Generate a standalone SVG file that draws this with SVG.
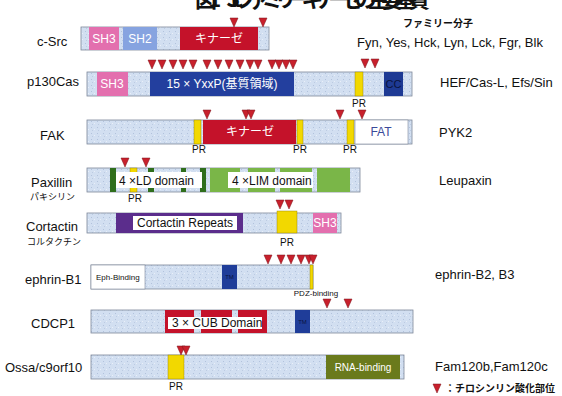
<svg xmlns="http://www.w3.org/2000/svg" width="562" height="396" viewBox="0 0 562 396">
<defs>
<pattern id="speck" width="6" height="6" patternUnits="userSpaceOnUse">
<rect width="6" height="6" fill="#d2dff1"/>
<rect x="1" y="1" width="1" height="1" fill="#b2c2dc"/>
<rect x="4" y="3" width="1" height="1" fill="#e9eff8"/>
<rect x="2" y="4" width="1" height="1" fill="#bccbe2"/>
</pattern>
<path id="tri" d="M-4,0 L4,0 L0,9 Z"/>
</defs>
<style>
.bar{fill:url(#speck);stroke:#7d8799;stroke-width:0.8}
.lbl{font-family:"Liberation Sans",Arial,"Noto Sans CJK JP",sans-serif;font-size:13px;fill:#111}
.jp{font-family:"Noto Sans CJK JP",sans-serif;font-size:9px;fill:#111}
.dom{font-family:"Liberation Sans",Arial,"Noto Sans CJK JP",sans-serif;font-size:12px;fill:#fff;text-anchor:middle}
.blk{font-family:"Liberation Sans",Arial,sans-serif;font-size:12px;fill:#111}
.pr{font-family:"Liberation Sans",Arial,sans-serif;font-size:10px;fill:#111;text-anchor:middle}
.tri{fill:#c8202c;stroke:#7a1018;stroke-width:0.5}
.sh3{fill:#e36fae}
.red{fill:#c4122a}
.yel{fill:#f2d800;stroke:#8a7a00;stroke-width:0.4}
.navy{fill:#233f9e}
.wbox{fill:#fff}
</style>
<text x="195" y="7" font-family="'Noto Sans CJK JP',sans-serif" font-weight="bold" font-size="22" textLength="235" fill="#111">図1　Srcファミリーキナーゼの主要基質</text>

<g id="c-src">
<text class="lbl" x="37" y="46">c-Src</text>
<rect class="bar" x="81" y="27" width="188" height="23"/>
<rect class="sh3" x="89" y="27" width="30" height="23"/>
<text class="dom" x="104" y="43" font-size="11">SH3</text>
<rect x="123" y="27" width="34" height="23" fill="#86a3e0"/>
<text class="dom" x="140" y="43" font-size="11">SH2</text>
<rect class="red" x="180" y="27" width="78" height="23"/>
<text class="dom" x="219" y="43">キナーゼ</text>
<use href="#tri" class="tri" x="234" y="18"/>
<use href="#tri" class="tri" x="263" y="18"/>
</g>

<g id="family-header">
<text x="438" y="27" text-anchor="middle" font-family="'Noto Sans CJK JP',sans-serif" font-weight="bold" font-size="10" fill="#111">ファミリー分子</text>
<text class="lbl" x="357" y="47">Fyn, Yes, Hck, Lyn, Lck, Fgr, Blk</text>
</g>

<g id="p130cas">
<text class="lbl" x="27" y="86">p130Cas</text>
<rect class="bar" x="87" y="72" width="325" height="24"/>
<rect class="sh3" x="97" y="72" width="31" height="24"/>
<text class="dom" x="112" y="88" font-size="11">SH3</text>
<rect class="navy" x="150" y="72" width="144" height="24"/>
<text class="dom" x="222" y="88">15 × YxxP(基質領域)</text>
<rect class="yel" x="355" y="72" width="8" height="24"/>
<rect x="384" y="72" width="19" height="24" fill="#1e3a94"/>
<text x="393.5" y="88" font-family="'Liberation Sans',Arial,sans-serif" font-size="11" fill="#0a1440" text-anchor="middle">CC</text>
<text class="pr" x="359" y="107">PR</text>
<use href="#tri" class="tri" x="152" y="60"/>
<use href="#tri" class="tri" x="162" y="60"/>
<use href="#tri" class="tri" x="173" y="60"/>
<use href="#tri" class="tri" x="183" y="60"/>
<use href="#tri" class="tri" x="193" y="60"/>
<use href="#tri" class="tri" x="207" y="60"/>
<use href="#tri" class="tri" x="218" y="60"/>
<use href="#tri" class="tri" x="229" y="60"/>
<use href="#tri" class="tri" x="240" y="60"/>
<use href="#tri" class="tri" x="250" y="60"/>
<use href="#tri" class="tri" x="258" y="60"/>
<use href="#tri" class="tri" x="272" y="60"/>
<use href="#tri" class="tri" x="279" y="60"/>
<use href="#tri" class="tri" x="286" y="60"/>
<use href="#tri" class="tri" x="293" y="60"/>
<use href="#tri" class="tri" x="365" y="59"/>
<use href="#tri" class="tri" x="375" y="59"/>
<text class="lbl" x="440" y="87">HEF/Cas-L, Efs/Sin</text>
</g>

<g id="fak">
<text class="lbl" x="40" y="140">FAK</text>
<rect class="bar" x="87" y="120" width="325" height="24"/>
<rect class="yel" x="194" y="120" width="7" height="24"/>
<rect class="red" x="203" y="120" width="93" height="24"/>
<text class="dom" x="250" y="136">キナーゼ</text>
<rect class="yel" x="297" y="120" width="6" height="24"/>
<rect class="yel" x="347" y="120" width="7" height="24"/>
<rect x="355" y="120" width="53" height="24" fill="#fff" stroke="#7d8799" stroke-width="0.6"/>
<text x="381" y="136" font-family="'Liberation Sans',Arial,sans-serif" font-size="12" fill="#3a4a9a" text-anchor="middle">FAT</text>
<text class="pr" x="199" y="153">PR</text>
<text class="pr" x="300" y="153">PR</text>
<text class="pr" x="350" y="153">PR</text>
<use href="#tri" class="tri" x="207" y="110"/>
<use href="#tri" class="tri" x="246" y="110"/>
<use href="#tri" class="tri" x="251" y="110"/>
<use href="#tri" class="tri" x="340" y="110"/>
<use href="#tri" class="tri" x="362" y="110"/>
<text class="lbl" x="439" y="137">PYK2</text>
</g>

<g id="paxillin">
<text class="lbl" x="31" y="187">Paxillin</text>
<text class="jp" x="30" y="200">パキシリン</text>
<rect class="bar" x="87" y="168" width="273" height="24"/>
<rect class="yel" x="130" y="168" width="7" height="24"/>
<rect x="110" y="168" width="6" height="24" fill="#2f6e1c"/>
<rect x="148" y="168" width="6" height="24" fill="#2f6e1c"/>
<rect x="181" y="168" width="5" height="24" fill="#2f6e1c"/>
<rect x="200" y="168" width="6" height="24" fill="#2f6e1c"/>
<rect class="wbox" x="116" y="172" width="86" height="16"/>
<text class="blk" x="119" y="185">4 ×LD domain</text>
<rect x="210" y="168" width="30" height="24" fill="#7ab648"/>
<rect x="248" y="168" width="27" height="24" fill="#7ab648"/>
<rect x="280" y="168" width="32" height="24" fill="#7ab648"/>
<rect x="317" y="168" width="33" height="24" fill="#7ab648"/>
<rect class="wbox" x="228" y="172" width="85" height="16"/>
<text class="blk" x="232" y="185">4 ×LIM domain</text>
<text class="pr" x="135" y="202">PR</text>
<use href="#tri" class="tri" x="125" y="158"/>
<use href="#tri" class="tri" x="146" y="158"/>
<text class="lbl" x="439" y="185">Leupaxin</text>
</g>

<g id="cortactin">
<text class="lbl" x="26" y="231">Cortactin</text>
<text class="jp" x="27" y="245">コルタクチン</text>
<rect class="bar" x="87" y="213" width="254" height="20"/>
<rect x="116" y="213" width="127" height="20" fill="#5b2d8c"/>
<rect class="wbox" x="133" y="216" width="104" height="14"/>
<text class="blk" x="185" y="227" text-anchor="middle">Cortactin Repeats</text>
<rect class="yel" x="277" y="211" width="20" height="22"/>
<rect class="sh3" x="313" y="213" width="24" height="20"/>
<text class="dom" x="325" y="227" font-size="11">SH3</text>
<text class="pr" x="287" y="246">PR</text>
<use href="#tri" class="tri" x="280" y="200"/>
<use href="#tri" class="tri" x="289" y="200"/>
</g>

<g id="ephrin-b1">
<text class="lbl" x="25" y="284">ephrin-B1</text>
<rect class="bar" x="91" y="265" width="222" height="24"/>
<rect x="91" y="265" width="54" height="24" fill="#fff" stroke="#7d8799" stroke-width="0.6"/>
<text x="96" y="280" font-family="'Liberation Sans',Arial,sans-serif" font-size="8" fill="#111">Eph-Binding</text>
<rect x="222" y="265" width="15" height="24" fill="#1f3d99"/>
<text x="229.5" y="279" font-family="'Liberation Sans',Arial,sans-serif" font-size="6" fill="#0a1440" text-anchor="middle">TM</text>
<rect class="yel" x="310" y="265" width="3" height="24"/>
<use href="#tri" class="tri" x="268" y="255"/>
<use href="#tri" class="tri" x="281" y="255"/>
<use href="#tri" class="tri" x="291" y="255"/>
<use href="#tri" class="tri" x="301" y="255"/>
<use href="#tri" class="tri" x="309" y="255"/>
<use href="#tri" class="tri" x="313" y="255"/>
<text x="316" y="296" font-family="'Liberation Sans',Arial,sans-serif" font-size="8" fill="#111" text-anchor="middle">PDZ-binding</text>
<text class="lbl" x="435" y="279">ephrin-B2, B3</text>
</g>

<g id="cdcp1">
<text class="lbl" x="31" y="328">CDCP1</text>
<rect class="bar" x="91" y="310" width="322" height="23"/>
<rect class="red" x="165" y="310" width="29" height="23"/>
<rect class="red" x="201" y="310" width="31" height="23"/>
<rect class="red" x="238" y="310" width="29" height="23"/>
<rect class="wbox" x="168" y="317" width="94" height="12"/>
<text class="blk" x="172" y="327">3 × CUB Domain</text>
<rect x="295" y="310" width="15" height="23" fill="#1f3d99"/>
<text x="302.5" y="324" font-family="'Liberation Sans',Arial,sans-serif" font-size="6" fill="#0a1440" text-anchor="middle">TM</text>
<use href="#tri" class="tri" x="327" y="299"/>
<use href="#tri" class="tri" x="348" y="299"/>
</g>

<g id="ossa">
<text class="lbl" x="5" y="372">Ossa/c9orf10</text>
<rect class="bar" x="91" y="355" width="313" height="24"/>
<rect class="yel" x="168" y="355" width="16" height="24"/>
<rect x="326" y="355" width="74" height="24" fill="#6a7a1c"/>
<text x="363" y="371" font-family="'Liberation Sans',Arial,sans-serif" font-size="10" fill="#fff" text-anchor="middle">RNA-binding</text>
<text class="pr" x="176" y="390">PR</text>
<use href="#tri" class="tri" x="181" y="346"/>
<use href="#tri" class="tri" x="186" y="346"/>
<text class="lbl" x="435" y="371">Fam120b,Fam120c</text>
</g>

<g id="legend">
<use href="#tri" class="tri" x="437" y="384"/>
<text x="445" y="392" font-family="'Noto Sans CJK JP',sans-serif" font-weight="bold" font-size="10" fill="#111">：チロシンリン酸化部位</text>
</g>
</svg>
